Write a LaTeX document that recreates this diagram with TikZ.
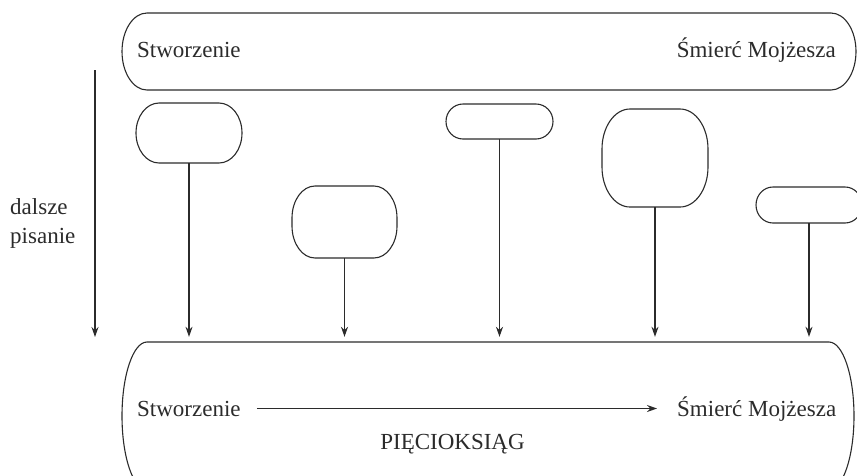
\documentclass[tikz,border=0pt]{standalone}
\usepackage{fontspec}
\setmainfont{Liberation Serif}
\usetikzlibrary{arrows.meta,fit}
\definecolor{ink}{HTML}{2B2B2B}
\tikzset{
  outline/.style={draw=ink, line width=1.1pt},
  conn/.style={draw=ink, line width=1.1pt, -{Stealth[length=10pt,width=7pt]}},
  lbl/.style={inner sep=0pt, text=ink, font=\fontsize{23}{28}\selectfont},
  hold/.style={inner sep=0pt, draw=none}
}
% name, x1, y1, x2, y2, rx, ry
\newcommand\ovbox[7]{%
  \node[hold, fit={(#2,#3) (#4,#5)}] (#1) {};
  \draw[outline] ({#2+#6},#3) -- ({#4-#6},#3)
    .. controls ({#4-#6+0.5523*#6},#3) and (#4,{#3+#7-0.5523*#7}) .. (#4,{#3+#7})
    -- (#4,{#5-#7})
    .. controls (#4,{#5-#7+0.5523*#7}) and ({#4-#6+0.5523*#6},#5) .. ({#4-#6},#5)
    -- ({#2+#6},#5)
    .. controls ({#2+#6-0.5523*#6},#5) and (#2,{#5-#7+0.5523*#7}) .. (#2,{#5-#7})
    -- (#2,{#3+#7})
    .. controls (#2,{#3+#7-0.5523*#7}) and ({#2+#6-0.5523*#6},#3) .. cycle;
}
\begin{document}
\begin{tikzpicture}[x=1pt,y=-1pt]
\useasboundingbox (0,0) rectangle (857,475);
\clip (0,0) rectangle (857,475);
% boxes
\ovbox{top}{122}{13}{856}{90}{25}{38.5}
\ovbox{b1}{136}{103}{242}{163}{23}{30}
\ovbox{b2}{292}{186}{397}{258}{23}{32}
\ovbox{b3}{446}{104}{553}{139}{17}{17.5}
\ovbox{b4}{602}{109}{708}{207}{28}{40}
\ovbox{b5}{756}{187}{862}{223}{17}{18}
\ovbox{bot}{122}{342}{854}{490}{25}{74}
% top labels
\node[lbl, anchor=base west] (ts) at (137,57) {Stworzenie};
\node[lbl, anchor=base east] (tm) at (836,57) {Śmierć Mojżesza};
% side label
\node[lbl, anchor=base west] (d1) at (10,214) {dalsze};
\node[lbl, anchor=base west] (d2) at (10,243) {pisanie};
\coordinate (ls) at (95,70);
\coordinate (le) at (95,337);
\draw[conn] (ls) -- (le);
% connectors
\foreach \b in {b1,b2,b3,b4,b5}
  \draw[conn, shorten >=5pt] (\b.south) -- (\b.south |- bot.north);
% bottom labels
\node[lbl, anchor=base west] (bs) at (137,416) {Stworzenie};
\node[lbl, anchor=base west] (bm) at (677,416) {Śmierć Mojżesza};
\node[lbl, anchor=base] (pk) at (452.5,449) {PIĘCIOKSIĄG};
\draw[conn, shorten <=16pt, shorten >=20pt] (bs.east) -- (bs.east -| bm.west);
\end{tikzpicture}
\end{document}
